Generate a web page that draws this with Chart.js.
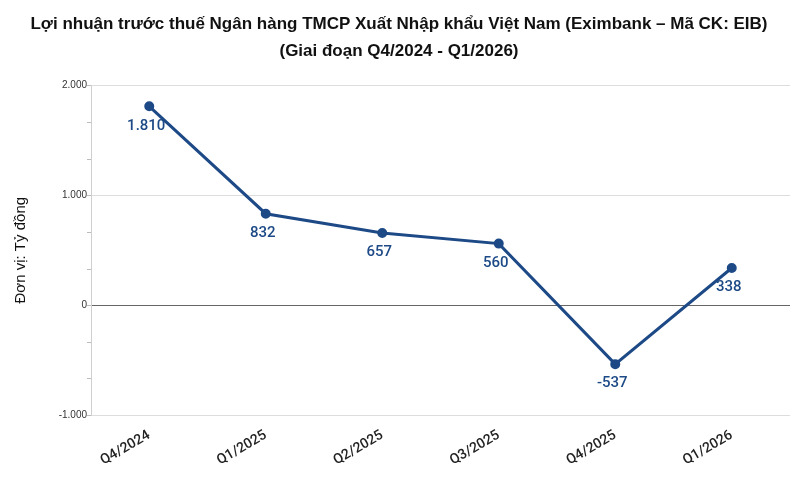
<!DOCTYPE html>
<html>
<head>
<meta charset="utf-8">
<script src="https://cdn.jsdelivr.net/npm/chart.js@4/dist/chart.umd.min.js"></script>
<style>
  body { margin: 0; background: #fff; }
  #wrap { width: 798px; height: 487px; }
</style>
</head>
<body>
<div id="wrap"><canvas id="chart"></canvas></div>
<script>
// data
var quarters = ["Q4/2024", "Q1/2025", "Q2/2025", "Q3/2025", "Q4/2025", "Q1/2026"];
var profit = [1810, 832, 657, 560, -537, 338];
var titleLines = ["Lợi nhuận trước thuế Ngân hàng TMCP Xuất Nhập khẩu Việt Nam (Eximbank – Mã CK: EIB)", "(Giai đoạn Q4/2024 - Q1/2026)"];

function fmt(v) {
    var s = Math.abs(v).toString().replace(/\B(?=(\d{3})+(?!\d))/g, ".");
    return (v < 0 ? "-" : "") + s;
}

// minor ticks on the y axis + value labels
var extras = {
    id: 'extras',
    afterDraw: function (chart) {
        var ctx = chart.ctx, y = chart.scales.y, area = chart.chartArea;
        ctx.save();
        ctx.strokeStyle = '#bdbdbd';
        ctx.lineWidth = 1;
        for (var v = -1000; v <= 2000; v += 1000 / 3) {
            var py = Math.round(y.getPixelForValue(v)) + 0.5;
            ctx.beginPath();
            ctx.moveTo(area.left - 4, py);
            ctx.lineTo(area.left, py);
            ctx.stroke();
        }
        var meta = chart.getDatasetMeta(0);
        ctx.fillStyle = '#1d4a86';
        ctx.font = '500 15px Roboto, "Liberation Sans", sans-serif';
        ctx.textAlign = 'center';
        ctx.textBaseline = 'top';
        meta.data.forEach(function (pt, i) {
            ctx.fillText(fmt(profit[i]), pt.x - 3, pt.y + 12);
        });
        ctx.restore();
    }
};

var ctx = document.getElementById("chart").getContext("2d");
new Chart(ctx, {
    type: 'line',
    data: {
        labels: quarters,
        datasets: [{
            data: profit,
            borderColor: '#1d4a86',
            backgroundColor: '#1d4a86',
            borderWidth: 3,
            pointRadius: 3.5,
            pointBackgroundColor: '#1d4a86',
            tension: 0
        }]
    },
    options: {
        responsive: true,
        maintainAspectRatio: false,
        animation: false,
        layout: { padding: { top: 4, right: 8, left: 8, bottom: 14 } },
        plugins: {
            legend: { display: false },
            tooltip: { enabled: false },
            title: {
                display: true,
                text: titleLines,
                color: '#111',
                font: { family: '"Liberation Sans", Arial, sans-serif', size: 17, weight: 'bold', lineHeight: 1.6 },
                padding: { top: 7, bottom: 20 }
            }
        },
        scales: {
            x: {
                offset: true,
                grid: { display: false },
                border: { display: false },
                ticks: {
                    color: '#222',
                    font: { family: 'Roboto, "Liberation Sans", sans-serif', size: 14, weight: '500' },
                    maxRotation: 30, minRotation: 30,
                    padding: 4
                }
            },
            y: {
                min: -1000, max: 2000,
                ticks: {
                    stepSize: 1000,
                    color: '#333',
                    font: { family: '"Liberation Sans", Arial, sans-serif', size: 10 },
                    callback: function (v) { return fmt(v); },
                    padding: 4
                },
                grid: {
                    drawTicks: false,
                    color: function (c) { return c.tick.value === 0 ? '#666' : '#dddddd'; }
                },
                border: { color: '#cfcfcf' },
                title: {
                    display: true,
                    text: 'Đơn vị: Tỷ đồng',
                    color: '#111',
                    font: { family: '"Liberation Sans", Arial, sans-serif', size: 15 }
                },
                afterFit: function (s) { s.width = 83; }
            }
        }
    },
    plugins: [extras]
});
</script>
</body>
</html>
